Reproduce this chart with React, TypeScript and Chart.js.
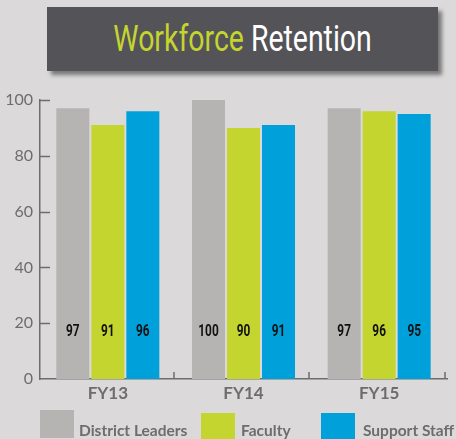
import React, { useEffect, useRef } from "react";
import { Chart, registerables } from "chart.js";

Chart.register(...registerables);

const categories = ["FY13", "FY14", "FY15"];
const seriesNames = ["District Leaders", "Faculty", "Support Staff"];
const seriesColors = ["#b5b4b2", "#c4d530", "#00a0da"];
const districtLeaders = [97, 100, 97];
const faculty = [91, 90, 96];
const supportStaff = [96, 91, 95];
const yTicks = [0, 20, 40, 60, 80, 100];
const labelValue = 17;

const BG = "#dbd9da";
const AXIS = "#6d6d6f";

const insideTicks = {
  id: "insideTicks",
  afterDraw(chart: any) {
    const { ctx, chartArea, scales } = chart;
    const x = scales.x;
    const y = scales.y;
    ctx.save();
    ctx.strokeStyle = AXIS;
    ctx.lineWidth = 1.5;
    ctx.beginPath();
    yTicks.forEach((v) => {
      if (v === 0) return;
      const py = Math.round(y.getPixelForValue(v)) + 0.5;
      ctx.moveTo(chartArea.left, py);
      ctx.lineTo(chartArea.left + 10, py);
    });
    const half = (x.getPixelForValue(1) - x.getPixelForValue(0)) / 2;
    categories.forEach((_, i) => {
      const px = Math.round(x.getPixelForValue(i) + half) - 2;
      ctx.moveTo(px, chartArea.bottom);
      ctx.lineTo(px, chartArea.bottom - 7);
    });
    ctx.stroke();
    ctx.restore();
  },
};

const barLabels = {
  id: "barLabels",
  afterDatasetsDraw(chart: any) {
    const { ctx, scales } = chart;
    const py = scales.y.getPixelForValue(labelValue);
    const sx = 0.74;
    ctx.save();
    ctx.fillStyle = "#111";
    ctx.font = "bold 16px Roboto, sans-serif";
    ctx.textAlign = "center";
    ctx.textBaseline = "middle";
    chart.data.datasets.forEach((ds: any, di: number) => {
      const meta = chart.getDatasetMeta(di);
      meta.data.forEach((bar: any, i: number) => {
        ctx.save();
        ctx.translate(bar.x, py);
        ctx.scale(sx, 1);
        ctx.fillText(String(ds.data[i]), 0, 0);
        ctx.restore();
      });
    });
    ctx.restore();
  },
};

export default function App() {
  const ref = useRef<HTMLCanvasElement>(null);
  useEffect(() => {
    const values = [districtLeaders, faculty, supportStaff];
    const chart = new Chart(ref.current!, {
      type: "bar",
      data: {
        labels: categories,
        datasets: seriesNames.map((name, i) => ({
          label: name,
          data: values[i],
          backgroundColor: seriesColors[i],
          borderWidth: 0,
          barPercentage: 0.943,
          categoryPercentage: 0.774,
        })),
      },
      options: {
        responsive: false,
        animation: false,
        layout: { padding: { top: 100, right: 9, left: 0, bottom: 0 } },
        plugins: { legend: { display: false }, tooltip: { enabled: false }, title: { display: false } },
        scales: {
          x: {
            grid: { display: false, drawTicks: false },
            border: { display: true, color: AXIS, width: 1.5 },
            ticks: {
              color: "#6d6d6d",
              font: { family: "Lato", size: 17, weight: "bold" },
              padding: 4,
            },
            afterFit: (s: any) => {
              s.height = 60;
            },
          },
          y: {
            min: 0,
            max: 100,
            afterBuildTicks: (s: any) => {
              s.ticks = yTicks.map((v) => ({ value: v }));
            },
            grid: { display: false, drawTicks: false },
            border: { display: true, color: AXIS, width: 1.5 },
            ticks: {
              color: "#6d6d6f",
              font: { family: "Lato", size: 16 },
              padding: 7,
            },
            afterFit: (s: any) => {
              s.width = 40;
            },
          },
        },
      },
      plugins: [insideTicks, barLabels],
    });
    return () => chart.destroy();
  }, []);

  const legendPos = [
    { box: 40, top: 410, text: 79 },
    { box: 201, top: 413, text: 241 },
    { box: 321, top: 413, text: 363 },
  ];

  return (
    <div
      style={{
        position: "fixed",
        left: 0,
        top: 0,
        width: 456,
        height: 439,
        background: BG,
        overflow: "hidden",
      }}
    >
      <div
        style={{
          position: "absolute",
          left: 47,
          top: 7,
          width: 391,
          height: 64,
          background: "#545358",
          boxShadow: "4px 4px 4px rgba(0,0,0,0.45)",
          display: "flex",
          alignItems: "center",
          justifyContent: "center",
        }}
      >
        <div
          style={{
            fontFamily: "Roboto, sans-serif",
            fontSize: 36,
            lineHeight: 1,
            transform: "scaleX(0.79)",
            whiteSpace: "nowrap",
          }}
        >
          <span style={{ color: "#c4d530" }}>Workforce</span>
          <span style={{ color: "#ffffff" }}> Retention</span>
        </div>
      </div>
      <canvas ref={ref} width={456} height={439} style={{ position: "absolute", left: 0, top: 0 }} />
      {seriesNames.map((name, i) => (
        <React.Fragment key={name}>
          <div
            style={{
              position: "absolute",
              left: legendPos[i].box,
              top: legendPos[i].top,
              width: 34,
              height: 28,
              background: seriesColors[i],
            }}
          />
          <div
            style={{
              position: "absolute",
              left: legendPos[i].text,
              top: 421,
              fontFamily: "Lato, sans-serif",
              fontWeight: 700,
              fontSize: 15.5,
              color: "#6d6d6d",
              whiteSpace: "nowrap",
              lineHeight: "18px",
            }}
          >
            {name}
          </div>
        </React.Fragment>
      ))}
    </div>
  );
}
